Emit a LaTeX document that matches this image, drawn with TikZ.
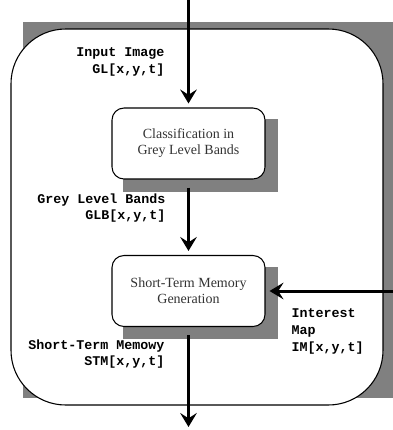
\documentclass[tikz,border=0pt]{standalone}
\usepackage{fontspec}
\setmainfont{Liberation Serif}
\setmonofont{Liberation Mono}
\usetikzlibrary{arrows.meta, backgrounds, calc}
\definecolor{shadeGrey}{RGB}{128,128,128}

\begin{document}
\begin{tikzpicture}[x=0.75pt, y=-0.75pt,
    stage/.style={rectangle, draw=black, line width=0.8pt, fill=white,
        rounded corners=9pt, minimum width=114.75pt, minimum height=53.25pt,
        align=center, font=\fontsize{10.5}{12}\selectfont, text=black!80},
    arr/.style={-{Stealth[length=10.5pt, width=12.5pt, inset=4pt]}, line width=2.25pt},
    lbl/.style={font=\fontsize{10}{12.5}\selectfont\ttfamily\bfseries}
]
\useasboundingbox (0,0) rectangle (393,430);
\node[stage] (classify) at (188.5,143.5)
    {Classification in\\Grey Level Bands};
\node[stage] (stm) at (188.5,291)
    {Short-Term Memory\\Generation};
\coordinate (input) at (188.5,0);
\coordinate (output) at (188.5,427);
\coordinate (map) at (393,291);
\begin{scope}[on background layer]
\fill[shadeGrey] (23,22) rectangle (393,398);
\draw[fill=white, line width=0.8pt, rounded corners=41pt] (11,29) rectangle (383,405);
\fill[shadeGrey] ($(classify.south west)+(12,12)$) rectangle ($(classify.north east)+(12,12)$);
\fill[shadeGrey] ($(stm.south west)+(12,12)$) rectangle ($(stm.north east)+(12,12)$);
\end{scope}
\draw[arr, shorten >=3pt] (input) -- (classify.north);
\draw[arr, shorten <=6pt, shorten >=3pt] (classify.south) -- (stm.north);
\draw[arr, shorten <=6pt] (stm.south) -- (output);
\draw[arr, shorten >=3pt] (map) -- (stm.east);
\node[lbl, anchor=east, align=right] (inlbl) at (169,62) {Input Image\\GL[x,y,t]};
\node[lbl, anchor=east, align=right] (glblbl) at (170,208) {Grey Level Bands\\GLB[x,y,t]};
\node[lbl, anchor=east, align=right] (stmlbl) at (169,354) {Short-Term Memowy\\STM[x,y,t]};
\node[lbl, anchor=west, align=left] (imlbl) at (287,331.5) {Interest\\Map\\IM[x,y,t]};
\end{tikzpicture}
\end{document}
